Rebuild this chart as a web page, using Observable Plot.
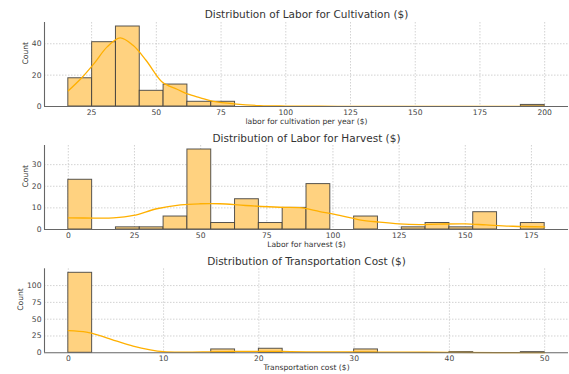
<!DOCTYPE html>
<html><head><meta charset="utf-8">
<script src="https://cdn.jsdelivr.net/npm/d3@7"></script>
<script src="https://cdn.jsdelivr.net/npm/@observablehq/plot@0.6"></script>
<style>
body{margin:0;background:#fff;}
#chart svg{display:block;}
</style></head><body><div id="chart"></div>
<script>
// Panel 1: Labor for Cultivation
const cultBinStart = 16, cultBinWidth = 9.2;
const cultCounts = [18,41,51,10,14,3,3,0,0,0,0,0,0,0,0,0,0,0,0,1];
const cultKdeX = [16,21,26,31,36,41,46,52,55,58,62,67,72,81,90,100,120,140,170,200];
const cultKdeY = [10,18,27.5,38,43.8,39,29.5,16,13,11,8,5.5,3.2,1.5,0.6,0.3,0.1,0.05,0.05,0.05];
const cultXTicks = [25,50,75,100,125,150,175,200];
const cultYTicks = [0,20,40];

// Panel 2: Labor for Harvest
const harvBinStart = 0, harvBinWidth = 9;
const harvCounts = [23,0,1,1,6,37,3,14,3,10,21,0,6,0,1,3,1,8,0,3];
const harvKdeX = [0,10,17,24.6,33.4,42.4,49.7,57.2,67,79.8,87.4,95,102.5,110,117.6,125,132.7,140,150,157.9,168,180];
const harvKdeY = [5.4,5.3,5.4,6.5,9.6,11.4,11.9,11.9,11.1,10.3,10.1,8.3,6.5,4.5,3.4,2.6,2.3,2.5,2.6,2.1,1.5,1.2];
const harvXTicks = [0,25,50,75,100,125,150,175];
const harvYTicks = [0,10,20,30];

// Panel 3: Transportation Cost
const tranBinStart = 0, tranBinWidth = 2.5;
const tranCounts = [119,0,0,0,0,0,5,0,6,0,0,0,5,0,0,0,1,0,0,1];
const tranKdeX = [0,1.9,3.3,5.1,6.8,8.6,10,12,15,17.5,20,22.5,25,30,35,40,45,50];
const tranKdeY = [33,30.7,25.7,17.3,9.9,4.4,1.7,1,1.5,2,2,2,1.5,1.2,1,0.6,0.4,0.3];
const tranXTicks = [0,10,20,30,40,50];
const tranYTicks = [0,25,50,75,100];

function panel(o) {
  const bins = o.counts.map((c, i) => ({x1: o.start + i * o.width, x2: o.start + (i + 1) * o.width, c}));
  const kde = o.kx.map((x, i) => ({x, y: o.ky[i]}));
  const n = o.counts.length;
  const lo = o.start, hi = o.start + n * o.width, m = (hi - lo) * 0.05;
  const ymax = d3.max(o.counts) * 1.05;
  return Plot.plot({
    width: 569, height: o.height,
    marginLeft: 44, marginRight: 1, marginTop: o.mt, marginBottom: o.mb,
    style: {fontFamily: "DejaVu Sans", fontSize: "7.6px", color: "#444", background: "#fff", overflow: "visible"},
    x: {domain: [lo - m, hi + m]},
    y: {domain: [0, ymax]},
    marks: [
      Plot.gridX(o.xTicks, {stroke: "#c8c8c8", strokeOpacity: 1, strokeDasharray: "1.5,1.5", strokeWidth: 0.8}),
      Plot.gridY(o.yTicks.filter(d => d > 0), {stroke: "#c8c8c8", strokeOpacity: 1, strokeDasharray: "1.5,1.5", strokeWidth: 0.8}),
      Plot.rectY(bins, {x1: "x1", x2: "x2", y: "c", fill: "#ffd280", stroke: "#3a3a3a", strokeWidth: 1, strokeOpacity: 0.85}),
      Plot.line(kde, {x: "x", y: "y", stroke: "#ffb000", strokeWidth: 1.3, curve: "catmull-rom"}),
      Plot.ruleY([0], {stroke: "#666", strokeWidth: 1.1}),
      Plot.ruleX([lo - m], {stroke: "#666", strokeWidth: 1.1}),
      Plot.axisX(o.xTicks, {tickSize: 0, tickPadding: 3, label: null, fill: "#444"}),
      Plot.axisY(o.yTicks, {tickSize: 0, tickPadding: 3, label: null, fill: "#444"}),
      Plot.text([o.title], {frameAnchor: "top", lineAnchor: "middle", dy: o.titleDy, fontSize: 10.5, fill: "#333"}),
      Plot.text([o.xlabel], {frameAnchor: "bottom", lineAnchor: "middle", dy: o.labelDy, fontSize: 7.6, fill: "#333"}),
      Plot.text(["Count"], {frameAnchor: "left", lineAnchor: "middle", dx: o.countDx, rotate: -90, fontSize: 7.6, fill: "#333"})
    ]
  });
}

const chart = document.getElementById("chart");
chart.append(panel({
  title: "Distribution of Labor for Cultivation ($)", xlabel: "labor for cultivation per year ($)",
  start: cultBinStart, width: cultBinWidth, counts: cultCounts, kx: cultKdeX, ky: cultKdeY,
  xTicks: cultXTicks, yTicks: cultYTicks,
  height: 124, mt: 22, mb: 18, titleDy: -7.5, labelDy: 15.5, countDx: -19
}));
chart.append(panel({
  title: "Distribution of Labor for Harvest ($)", xlabel: "Labor for harvest ($)",
  start: harvBinStart, width: harvBinWidth, counts: harvCounts, kx: harvKdeX, ky: harvKdeY,
  xTicks: harvXTicks, yTicks: harvYTicks,
  height: 123, mt: 21, mb: 18, titleDy: -7, labelDy: 15.5, countDx: -19
}));
chart.append(panel({
  title: "Distribution of Transportation Cost ($)", xlabel: "Transportation cost ($)",
  start: tranBinStart, width: tranBinWidth, counts: tranCounts, kx: tranKdeX, ky: tranKdeY,
  xTicks: tranXTicks, yTicks: tranYTicks,
  height: 127, mt: 21.3, mb: 21.7, titleDy: -7.3, labelDy: 15.2, countDx: -23.5
}));
</script></body></html>
